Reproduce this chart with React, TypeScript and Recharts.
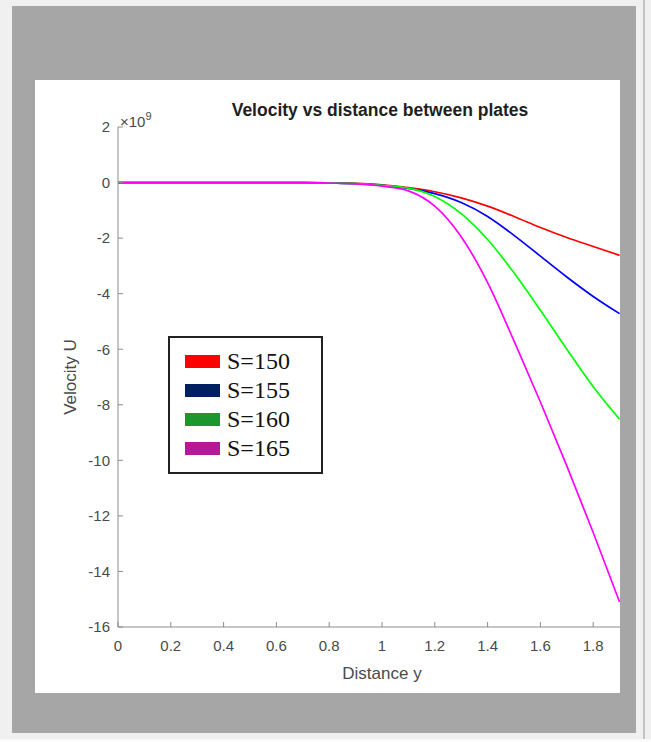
import { LineChart, Line, XAxis, YAxis, Legend } from "recharts";

// distance y (visible part of the MATLAB axes, which runs to 2)
const distance = [0, 0.1, 0.2, 0.3, 0.4, 0.5, 0.6, 0.7, 0.8, 0.9, 1.0, 1.1, 1.2, 1.3, 1.4, 1.5, 1.6, 1.7, 1.8, 1.9];

// velocity U, in units of 1e9
const s150 = [0, 0, 0, 0, 0, 0, 0, 0, -0.01, -0.03, -0.08, -0.18, -0.33, -0.55, -0.85, -1.22, -1.62, -1.98, -2.3, -2.62];
const s155 = [0, 0, 0, 0, 0, 0, 0, 0, -0.01, -0.04, -0.1, -0.21, -0.4, -0.72, -1.22, -1.9, -2.65, -3.4, -4.1, -4.72];
const s160 = [0, 0, 0, 0, 0, 0, 0, 0, -0.01, -0.04, -0.1, -0.2, -0.5, -1.12, -2.05, -3.25, -4.6, -6.0, -7.35, -8.52];
const s165 = [0, 0, 0, 0, 0, 0, 0, 0, -0.02, -0.05, -0.13, -0.3, -0.85, -1.95, -3.6, -5.7, -7.9, -10.2, -12.6, -15.1];

const seriesNames = ["S=150", "S=155", "S=160", "S=165"];
const seriesKeys = ["s150", "s155", "s160", "s165"];
const lineColors = ["#ff0000", "#0000ff", "#00ff00", "#ff00ff"];
const legendColors = ["#ff0000", "#00205f", "#1e962e", "#b5199a"];

// the tick at 2 falls outside the cropped panel, so only these are shown
const xTicks = [0, 0.2, 0.4, 0.6, 0.8, 1, 1.2, 1.4, 1.6, 1.8];
const yTicks = [2, 0, -2, -4, -6, -8, -10, -12, -14, -16];

const data = distance.map((x, i) => ({
  x,
  s150: s150[i],
  s155: s155[i],
  s160: s160[i],
  s165: s165[i],
}));

const FONT = "'Liberation Sans', Arial, Helvetica, sans-serif";
const SERIF = "'Liberation Serif', 'Times New Roman', serif";
const AXIS = "#8c8c8c";
const TEXT = "#4a4a4a";
const X_GAP = 13;
const Y_GAP = 8;

function XTick(props: any) {
  const { x, y, payload } = props;
  return (
    <g>
      <line x1={x} x2={x} y1={y - X_GAP} y2={y - X_GAP - 5} stroke={AXIS} strokeWidth={1} />
      <text x={x} y={y} dy="0.71em" textAnchor="middle" fill={TEXT} fontSize={15} fontFamily={FONT}>
        {String(payload.value)}
      </text>
    </g>
  );
}

function YTick(props: any) {
  const { x, y, payload } = props;
  return (
    <g>
      <line x1={x + Y_GAP} x2={x + Y_GAP + 5} y1={y} y2={y} stroke={AXIS} strokeWidth={1} />
      <text x={x} y={y} dy="0.355em" textAnchor="end" fill={TEXT} fontSize={15} fontFamily={FONT}>
        {String(payload.value)}
      </text>
    </g>
  );
}

function LegendBox(props: any) {
  const items = props.payload ?? [];
  return (
    <div
      style={{
        boxSizing: "border-box",
        width: 155,
        height: 138,
        border: "2px solid #222",
        background: "#fff",
        paddingTop: 9,
        paddingLeft: 15,
        fontFamily: SERIF,
        fontSize: 24,
        color: "#111",
      }}
    >
      {items.map((item: any, i: number) => (
        <div key={item.value} style={{ display: "flex", alignItems: "center", height: 29, lineHeight: "29px" }}>
          <span
            style={{
              display: "inline-block",
              width: 35,
              height: 13,
              marginRight: 7,
              background: legendColors[seriesNames.indexOf(item.value)] ?? legendColors[i],
            }}
          />
          <span>{item.value}</span>
        </div>
      ))}
    </div>
  );
}

export default function App() {
  return (
    <div
      style={{
        position: "absolute",
        left: 0,
        top: 0,
        width: 651,
        height: 742,
        background: "#f0f0f0",
        overflow: "hidden",
      }}
    >
      <div style={{ position: "absolute", left: 643, top: 0, width: 2, height: 742, background: "#c4c4c4" }} />
      <div style={{ position: "absolute", left: 0, top: 739, width: 651, height: 3, background: "#fafafa" }} />
      <div style={{ position: "absolute", left: 12, top: 6, width: 624, height: 727, background: "#a6a6a6" }} />

      {/* white figure panel; the axes run past its right edge and get cropped */}
      <div
        style={{
          position: "absolute",
          left: 35,
          top: 80,
          width: 585,
          height: 613,
          background: "#fff",
          overflow: "hidden",
        }}
      >
        <div
          style={{
            position: "absolute",
            left: 195,
            top: 20,
            width: 300,
            textAlign: "center",
            fontFamily: FONT,
            fontWeight: "bold",
            fontSize: 17.5,
            lineHeight: "20px",
            color: "#1e1e1e",
            whiteSpace: "nowrap",
          }}
        >
          Velocity vs distance between plates
        </div>
        <div
          style={{
            position: "absolute",
            left: 85,
            top: 27,
            fontFamily: FONT,
            fontSize: 15,
            lineHeight: "18px",
            color: TEXT,
            whiteSpace: "nowrap",
          }}
        >
          ×10<sup style={{ fontSize: 11, verticalAlign: "7px" }}>9</sup>
        </div>

        <LineChart width={640} height={613} data={data} margin={{ top: 47, right: 29, bottom: 0, left: 0 }}>
          <XAxis
            dataKey="x"
            type="number"
            domain={[0, 2]}
            ticks={xTicks}
            height={66}
            stroke={AXIS}
            tickLine={false}
            tickSize={0}
            tickMargin={X_GAP}
            tick={<XTick />}
            interval={0}
            label={{
              value: "Distance y",
              position: "insideBottom",
              offset: 14,
              fill: TEXT,
              fontSize: 17,
              fontFamily: FONT,
            }}
          />
          <YAxis
            type="number"
            domain={[-16, 2]}
            ticks={yTicks}
            width={83}
            stroke={AXIS}
            tickLine={false}
            tickSize={0}
            tickMargin={Y_GAP}
            tick={<YTick />}
            interval={0}
            label={{
              value: "Velocity U",
              angle: -90,
              position: "insideLeft",
              offset: 35,
              fill: TEXT,
              fontSize: 17,
              fontFamily: FONT,
              style: { textAnchor: "middle" },
            }}
          />
          <Legend
            layout="horizontal"
            verticalAlign="middle"
            align="center"
            wrapperStyle={{ left: 133, top: 256, width: 155, height: 138 }}
            content={<LegendBox />}
          />
          {seriesKeys.map((key, i) => (
            <Line
              key={key}
              type="monotone"
              dataKey={key}
              name={seriesNames[i]}
              stroke={lineColors[i]}
              strokeWidth={1.7}
              dot={false}
              activeDot={false}
              isAnimationActive={false}
            />
          ))}
        </LineChart>
      </div>
    </div>
  );
}
